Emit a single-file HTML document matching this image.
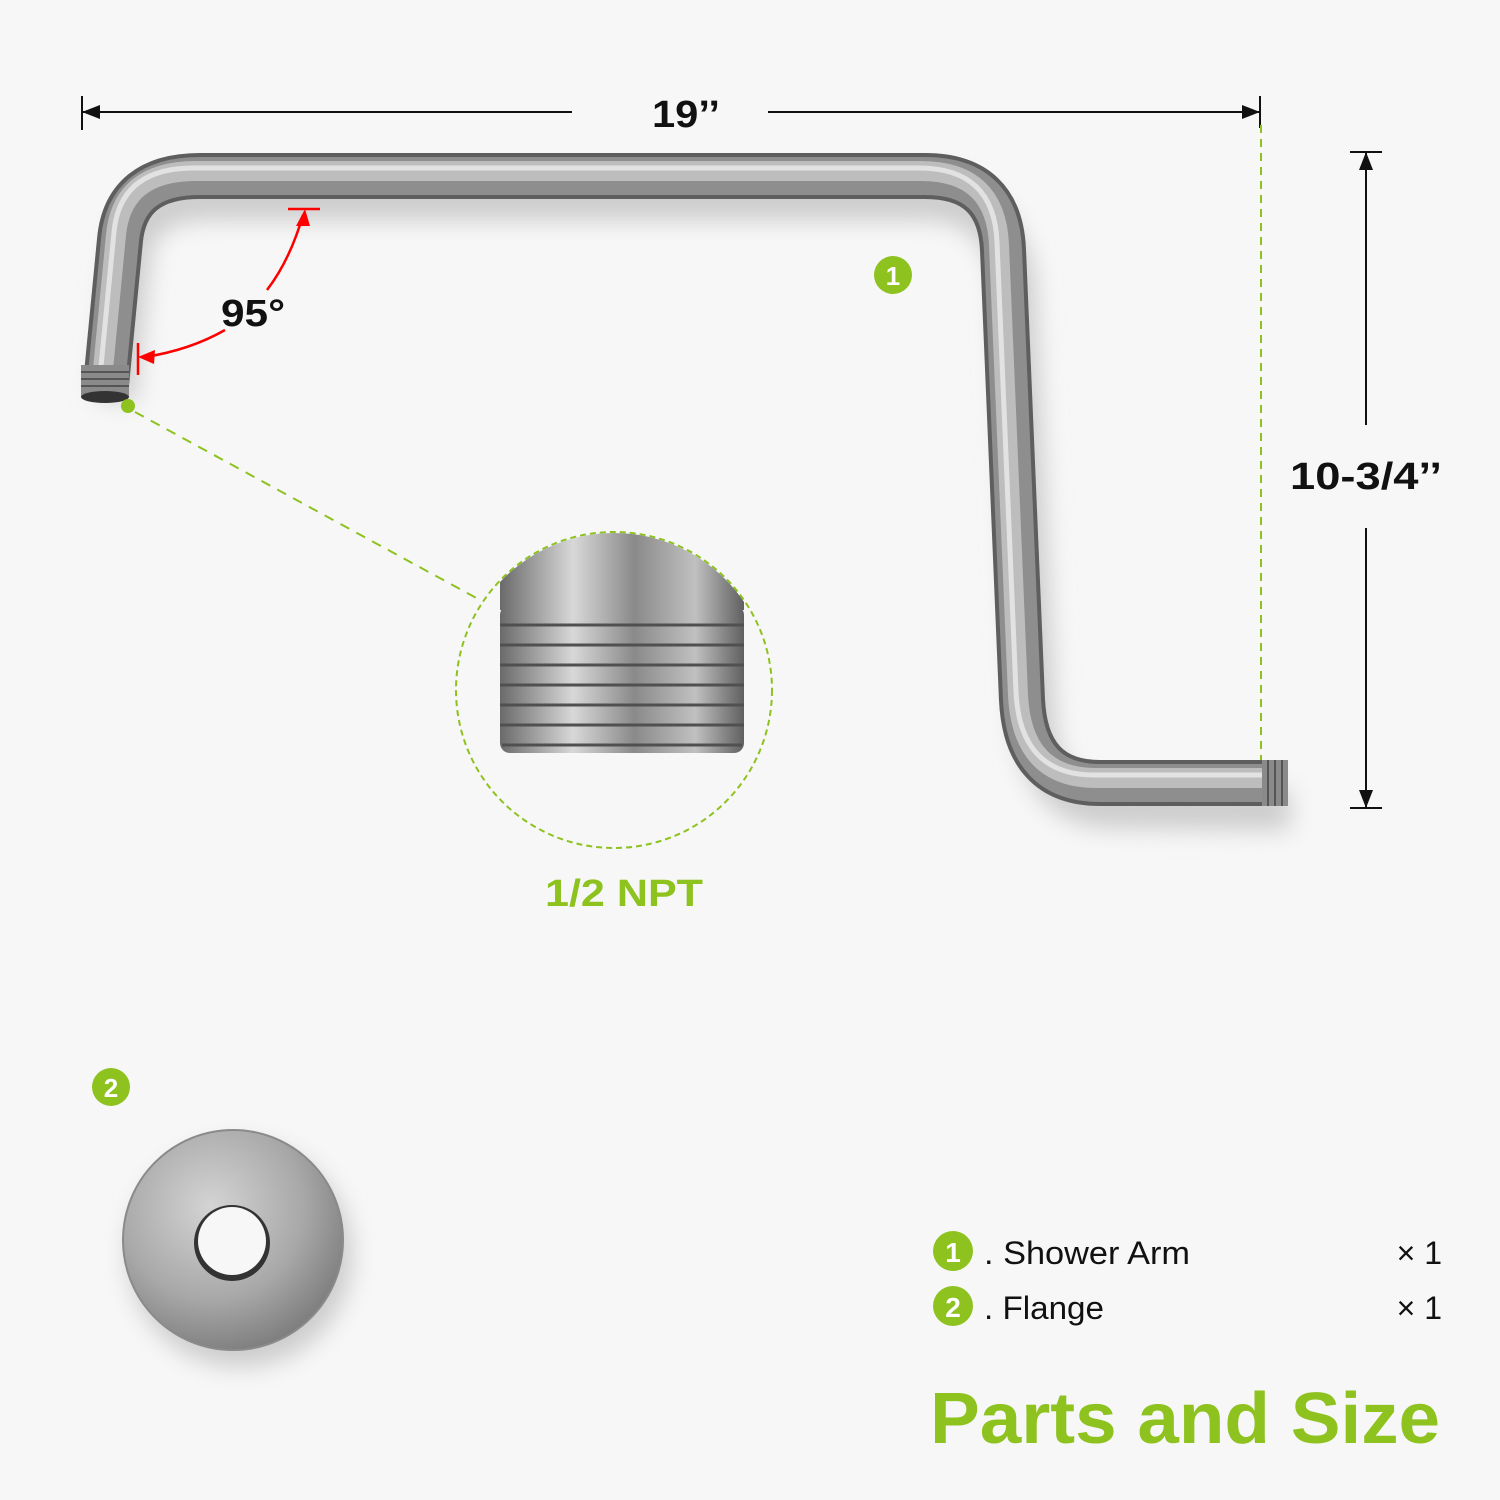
<!DOCTYPE html>
<html><head><meta charset="utf-8"><style>
body{margin:0;width:1500px;height:1500px;background:#f7f7f7;overflow:hidden}
svg{position:absolute;left:0;top:0}
</style></head><body>
<svg width="1500" height="1500" viewBox="0 0 1500 1500" font-family="Liberation Sans, sans-serif">
<defs>
<linearGradient id="th" x1="0" x2="1" y1="0" y2="0">
<stop offset="0" stop-color="#6a6a6a"/><stop offset="0.3" stop-color="#d8d8d8"/><stop offset="0.55" stop-color="#8a8a8a"/><stop offset="0.8" stop-color="#c0c0c0"/><stop offset="1" stop-color="#606060"/>
</linearGradient>
<radialGradient id="fl" cx="0.4" cy="0.35" r="0.7">
<stop offset="0" stop-color="#d4d4d4"/><stop offset="0.6" stop-color="#a8a8a8"/><stop offset="1" stop-color="#7a7a7a"/>
</radialGradient>
<filter id="sh"><feGaussianBlur stdDeviation="12"/></filter>
</defs>
<path d="M115,400 L130,260 Q135,200 210,200 L925,200 Q1000,200 1015,280 L1035,720 Q1040,805 1110,808 L1290,810" fill="none" stroke="#ccc" stroke-width="40" filter="url(#sh)"/>
<g fill="none" stroke-linecap="butt">
<path d="M105,395 L120,240 Q126,176 200,176 L925,176 Q1000,176 1003,250 L1022,700 Q1026,783 1100,783 L1288,783" stroke="#5e5e5e" stroke-width="46"/>
<path d="M105,395 L120,240 Q126,176 200,176 L925,176 Q1000,176 1003,250 L1022,700 Q1026,783 1100,783 L1288,783" stroke="#8e8e8e" stroke-width="38"/>
<path d="M105,395 L120,240 Q126,176 200,176 L925,176 Q1000,176 1003,250 L1022,700 Q1026,783 1100,783 L1288,783" stroke="#bdbdbd" stroke-width="20" transform="translate(-4,-5)"/>
<path d="M105,395 L120,240 Q126,176 200,176 L925,176 Q1000,176 1003,250 L1022,700 Q1026,783 1100,783 L1288,783" stroke="#e2e2e2" stroke-width="5" transform="translate(-6,-8)"/>
</g>
<rect x="81" y="365" width="48" height="32" fill="#8a8a8a"/>
<g stroke="#555" stroke-width="2"><line x1="81" y1="372" x2="129" y2="372"/><line x1="81" y1="379" x2="129" y2="379"/><line x1="81" y1="386" x2="129" y2="386"/></g>
<ellipse cx="105" cy="397" rx="24" ry="6" fill="#333"/>
<rect x="1262" y="760" width="26" height="46" fill="#8a8a8a"/>
<g stroke="#555" stroke-width="2"><line x1="1268" y1="760" x2="1268" y2="806"/><line x1="1275" y1="760" x2="1275" y2="806"/><line x1="1282" y1="760" x2="1282" y2="806"/></g>

<g stroke="#111" stroke-width="2" fill="#111">
<line x1="82" y1="96" x2="82" y2="130"/><line x1="82" y1="112" x2="572" y2="112"/>
<line x1="768" y1="112" x2="1260" y2="112"/><line x1="1260" y1="96" x2="1260" y2="128"/>
<polygon points="82,112 100,105 100,119" stroke="none"/>
<polygon points="1260,112 1242,105 1242,119" stroke="none"/>
<line x1="1350" y1="152" x2="1382" y2="152"/><line x1="1366" y1="152" x2="1366" y2="425"/>
<line x1="1366" y1="528" x2="1366" y2="808"/><line x1="1350" y1="808" x2="1382" y2="808"/>
<polygon points="1366,152 1359,170 1373,170" stroke="none"/>
<polygon points="1366,808 1359,790 1373,790" stroke="none"/>
</g>
<text x="652" y="127" font-size="38" font-weight="bold" fill="#111" textLength="68" lengthAdjust="spacingAndGlyphs">19’’</text>
<text x="1290" y="489" font-size="38" font-weight="bold" fill="#111" textLength="152" lengthAdjust="spacingAndGlyphs">10-3/4’’</text>
<line x1="1261" y1="125" x2="1261" y2="760" stroke="#8dc21f" stroke-width="2" stroke-dasharray="8,6"/>

<g stroke="red" stroke-width="2.5" fill="none">
<line x1="288" y1="209" x2="320" y2="209"/>
<line x1="138" y1="343" x2="138" y2="375"/>
<path d="M267,290 Q290,260 303,215"/>
<path d="M225,330 Q190,350 145,357"/>
</g>
<polygon points="305,209 296,226 310,226" fill="red"/>
<polygon points="138,357 155,350 154,364" fill="red"/>
<text x="221" y="326" font-size="38" font-weight="bold" fill="#111" textLength="64" lengthAdjust="spacingAndGlyphs">95°</text>

<circle cx="128" cy="406" r="7" fill="#8dc21f"/>
<line x1="135" y1="412" x2="480" y2="600" stroke="#8dc21f" stroke-width="2" stroke-dasharray="10,8"/>
<circle cx="614" cy="690" r="158" fill="none" stroke="#8dc21f" stroke-width="2" stroke-dasharray="6,4"/>
<clipPath id="cc"><circle cx="614" cy="690" r="157"/></clipPath>
<g clip-path="url(#cc)">
<rect x="500" y="520" width="244" height="90" fill="url(#th)"/>
<rect x="500" y="605" width="244" height="148" rx="10" fill="url(#th)"/>
<g stroke="#505050" stroke-width="3">
<line x1="500" y1="625" x2="744" y2="625"/><line x1="500" y1="645" x2="744" y2="645"/><line x1="500" y1="665" x2="744" y2="665"/><line x1="500" y1="685" x2="744" y2="685"/><line x1="500" y1="705" x2="744" y2="705"/><line x1="500" y1="725" x2="744" y2="725"/><line x1="502" y1="745" x2="742" y2="745"/>
</g>
</g>
<text x="545" y="906" font-size="38" font-weight="bold" fill="#8dc21f" textLength="158" lengthAdjust="spacingAndGlyphs">1/2 NPT</text>

<circle cx="893" cy="275" r="19" fill="#8dc21f"/><text x="893" y="285" font-size="26" font-weight="bold" text-anchor="middle" fill="#fff">1</text>
<circle cx="111" cy="1087" r="19" fill="#8dc21f"/><text x="111" y="1097" font-size="26" font-weight="bold" text-anchor="middle" fill="#fff">2</text>

<circle cx="240" cy="1255" r="112" fill="#ccc" filter="url(#sh)"/>
<circle cx="233" cy="1240" r="110" fill="url(#fl)" stroke="#8a8a8a" stroke-width="2"/>
<circle cx="232" cy="1243" r="38" fill="#333"/>
<circle cx="232" cy="1241" r="34" fill="#f7f7f7"/>

<circle cx="953" cy="1251" r="20" fill="#8dc21f"/><text x="953" y="1262" font-size="28" font-weight="bold" text-anchor="middle" fill="#fff">1</text>
<circle cx="953" cy="1306" r="20" fill="#8dc21f"/><text x="953" y="1317" font-size="28" font-weight="bold" text-anchor="middle" fill="#fff">2</text>
<text x="984" y="1264" font-size="32" fill="#111" textLength="206" lengthAdjust="spacingAndGlyphs">. Shower Arm</text>
<text x="984" y="1319" font-size="32" fill="#111" textLength="120" lengthAdjust="spacingAndGlyphs">. Flange</text>
<text x="1442" y="1264" font-size="32" text-anchor="end" fill="#111">× 1</text>
<text x="1442" y="1319" font-size="32" text-anchor="end" fill="#111">× 1</text>
<text x="930" y="1443" font-size="72" font-weight="bold" fill="#8dc21f" textLength="510" lengthAdjust="spacingAndGlyphs">Parts and Size</text>
</svg>
</body></html>
